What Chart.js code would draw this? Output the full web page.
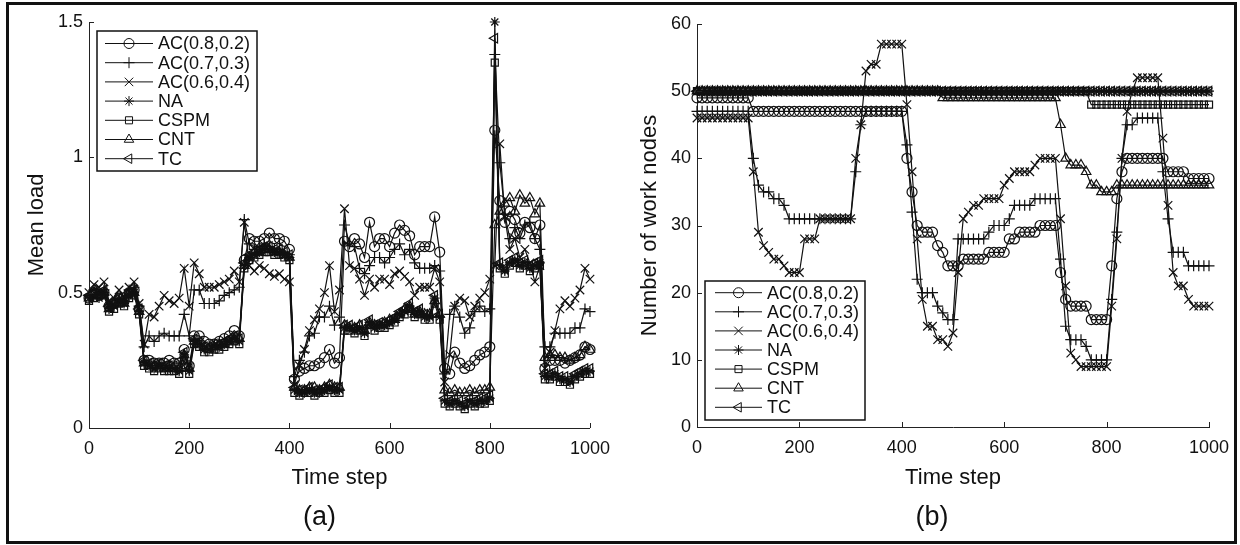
<!DOCTYPE html>
<html>
<head>
<meta charset="utf-8">
<script src="https://cdn.jsdelivr.net/npm/chart.js@4.4.0/dist/chart.umd.min.js"></script>
<style>
html,body{margin:0;padding:0;background:#fff;overflow:hidden;}
#wrap{position:relative;width:1240px;height:545px;overflow:hidden;background:#fff;}
#frame{position:absolute;left:6px;top:2px;width:1225px;height:536px;border:3px solid #111;}
#ca{position:absolute;left:0;top:0;}
#cb{position:absolute;left:620px;top:0;}
</style>
</head>
<body>
<div id="wrap">
<canvas id="ca" width="620" height="545"></canvas>
<canvas id="cb" width="620" height="545"></canvas>
<div id="frame"></div>
</div>
<script>
// ---------- data ----------
const timeSteps = [0,10,20,30,40,50,60,70,80,90,100,110,120,130,140,150,160,170,180,190,200,210,220,230,240,250,260,270,280,290,300,310,320,330,340,350,360,370,380,390,400,410,420,430,440,450,460,470,480,490,500,510,520,530,540,550,560,570,580,590,600,610,620,630,640,650,660,670,680,690,700,710,720,730,740,750,760,770,780,790,800,810,820,830,840,850,860,870,880,890,900,910,920,930,940,950,960,970,980,990,1000];

const seriesNames = ['AC(0.8,0.2)','AC(0.7,0.3)','AC(0.6,0.4)','NA','CSPM','CNT','TC'];
const xTicks = [0,200,400,600,800,1000];
const loadTicks = [0,0.5,1,1.5];
const nodeTicks = [0,10,20,30,40,50,60];

// (a) Mean load
const loadAC82 = [0.48,0.50,0.49,0.50,0.45,0.46,0.48,0.47,0.50,0.51,0.44,
 0.25,0.25,0.24,0.24,0.24,0.25,0.24,0.24,0.29,0.23,
 0.34,0.34,0.32,0.31,0.31,0.32,0.33,0.34,0.36,0.34,
 0.62,0.70,0.69,0.69,0.70,0.72,0.70,0.70,0.69,0.66,
 0.18,0.21,0.22,0.23,0.23,0.24,0.26,0.29,0.24,0.26,
 0.69,0.67,0.70,0.68,0.63,0.76,0.67,0.70,0.70,0.67,
 0.72,0.75,0.73,0.71,0.64,0.67,0.67,0.67,0.78,0.65,
 0.22,0.20,0.28,0.24,0.22,0.23,0.25,0.27,0.28,0.30,
 1.10,0.84,0.76,0.80,0.77,0.72,0.76,0.74,0.70,0.75,
 0.22,0.25,0.25,0.25,0.24,0.25,0.26,0.27,0.30,0.29];
const loadAC73 = [0.49,0.51,0.50,0.51,0.45,0.46,0.48,0.47,0.51,0.52,0.45,
 0.30,0.34,0.32,0.34,0.35,0.34,0.34,0.34,0.42,0.34,
 0.51,0.51,0.46,0.46,0.46,0.47,0.49,0.50,0.51,0.52,
 0.77,0.68,0.66,0.67,0.68,0.67,0.66,0.66,0.65,0.64,
 0.19,0.25,0.28,0.34,0.35,0.41,0.41,0.45,0.38,0.41,
 0.75,0.68,0.67,0.59,0.57,0.60,0.63,0.63,0.61,0.63,
 0.66,0.68,0.64,0.66,0.61,0.59,0.59,0.59,0.60,0.58,
 0.20,0.42,0.45,0.41,0.35,0.37,0.43,0.45,0.43,0.44,
 1.38,0.98,0.79,0.70,0.74,0.70,0.75,0.76,0.70,0.66,
 0.30,0.30,0.35,0.35,0.35,0.35,0.37,0.37,0.44,0.43];
const loadAC64 = [0.50,0.53,0.52,0.54,0.47,0.48,0.51,0.48,0.52,0.54,0.46,
 0.31,0.42,0.41,0.45,0.49,0.47,0.46,0.48,0.59,0.45,
 0.61,0.57,0.52,0.52,0.52,0.53,0.54,0.55,0.58,0.54,
 0.76,0.60,0.58,0.60,0.59,0.57,0.56,0.57,0.55,0.54,
 0.16,0.23,0.29,0.36,0.40,0.44,0.50,0.60,0.43,0.51,
 0.81,0.60,0.59,0.55,0.49,0.55,0.52,0.55,0.55,0.53,
 0.57,0.58,0.56,0.54,0.49,0.52,0.52,0.52,0.59,0.54,
 0.17,0.27,0.45,0.48,0.47,0.41,0.45,0.48,0.50,0.55,
 0.60,1.05,0.78,0.66,0.70,0.63,0.66,0.61,0.54,0.60,
 0.22,0.28,0.36,0.44,0.47,0.45,0.48,0.51,0.59,0.55];
const loadNA = [0.48,0.49,0.48,0.50,0.44,0.45,0.47,0.46,0.49,0.50,0.43,
 0.24,0.23,0.22,0.23,0.22,0.22,0.22,0.21,0.27,0.21,
 0.32,0.31,0.29,0.29,0.30,0.30,0.31,0.32,0.33,0.32,
 0.60,0.63,0.64,0.65,0.66,0.66,0.65,0.65,0.64,0.63,
 0.14,0.13,0.13,0.14,0.13,0.13,0.14,0.15,0.14,0.14,
 0.37,0.37,0.36,0.37,0.35,0.39,0.37,0.38,0.38,0.39,
 0.40,0.42,0.43,0.45,0.42,0.43,0.41,0.41,0.48,0.41,
 0.10,0.09,0.10,0.09,0.08,0.10,0.09,0.10,0.10,0.11,
 1.50,0.60,0.58,0.61,0.62,0.60,0.61,0.59,0.60,0.61,
 0.19,0.19,0.20,0.18,0.18,0.17,0.19,0.20,0.21,0.21];
const loadCSPM = [0.47,0.48,0.49,0.49,0.43,0.44,0.46,0.45,0.48,0.49,0.42,
 0.23,0.22,0.21,0.22,0.21,0.21,0.21,0.20,0.25,0.20,
 0.31,0.30,0.28,0.28,0.29,0.29,0.30,0.31,0.32,0.31,
 0.59,0.62,0.63,0.64,0.65,0.65,0.64,0.64,0.63,0.62,
 0.13,0.12,0.13,0.13,0.12,0.13,0.13,0.14,0.13,0.13,
 0.36,0.36,0.35,0.36,0.34,0.38,0.36,0.37,0.37,0.38,
 0.39,0.41,0.42,0.44,0.41,0.42,0.40,0.40,0.46,0.40,
 0.09,0.08,0.09,0.08,0.07,0.09,0.08,0.09,0.09,0.10,
 1.35,0.59,0.57,0.60,0.61,0.59,0.60,0.58,0.59,0.60,
 0.18,0.18,0.19,0.17,0.17,0.16,0.18,0.19,0.20,0.20];
const loadCNT = [0.48,0.50,0.49,0.50,0.44,0.46,0.47,0.46,0.50,0.50,0.43,
 0.24,0.23,0.23,0.23,0.22,0.23,0.22,0.22,0.27,0.22,
 0.32,0.31,0.30,0.29,0.30,0.31,0.31,0.32,0.33,0.33,
 0.60,0.63,0.65,0.65,0.66,0.66,0.65,0.65,0.64,0.63,
 0.15,0.14,0.14,0.15,0.15,0.14,0.15,0.16,0.15,0.15,
 0.38,0.37,0.37,0.38,0.36,0.39,0.38,0.38,0.39,0.40,
 0.40,0.42,0.44,0.45,0.42,0.43,0.42,0.42,0.47,0.42,
 0.14,0.13,0.14,0.13,0.13,0.14,0.13,0.14,0.14,0.15,
 0.75,0.80,0.83,0.85,0.80,0.86,0.83,0.85,0.79,0.83,
 0.26,0.27,0.27,0.26,0.26,0.25,0.26,0.27,0.30,0.29];
const loadTC = [0.49,0.50,0.49,0.51,0.45,0.46,0.48,0.47,0.50,0.51,0.44,
 0.25,0.24,0.23,0.24,0.23,0.23,0.23,0.22,0.28,0.22,
 0.33,0.32,0.30,0.30,0.31,0.31,0.32,0.33,0.34,0.33,
 0.61,0.64,0.65,0.66,0.67,0.67,0.66,0.66,0.65,0.64,
 0.15,0.14,0.14,0.15,0.14,0.14,0.15,0.16,0.15,0.15,
 0.38,0.38,0.37,0.38,0.36,0.40,0.38,0.39,0.39,0.40,
 0.41,0.43,0.44,0.46,0.43,0.44,0.42,0.42,0.49,0.42,
 0.11,0.10,0.11,0.10,0.09,0.11,0.10,0.11,0.11,0.12,
 1.44,0.61,0.59,0.62,0.63,0.61,0.62,0.60,0.61,0.62,
 0.20,0.20,0.21,0.19,0.19,0.18,0.20,0.21,0.22,0.22];

// (b) Number of work nodes
const nodesAC82 = [49,49,49,49,49,49,49,49,49,49,49,
 47,47,47,47,47,47,47,47,47,47,
 47,47,47,47,47,47,47,47,47,47,
 47,47,47,47,47,47,47,47,47,47,
 40,35,30,29,29,29,27,26,24,24,
 24,25,25,25,25,25,26,26,26,26,
 28,28,29,29,29,29,30,30,30,30,
 23,19,18,18,18,18,16,16,16,16,
 24,34,38,40,40,40,40,40,40,40,
 40,38,38,38,38,37,37,37,37,37];
const nodesAC73 = [47,47,47,47,47,47,47,47,47,47,47,
 40,36,35,35,34,34,33,31,31,31,
 31,31,31,31,31,31,31,31,31,31,
 38,45,47,47,47,47,47,47,47,47,
 42,32,22,20,20,20,18,17,16,16,
 28,28,28,28,28,28,29,30,30,30,
 31,33,33,33,33,34,34,34,34,34,
 25,15,13,13,13,12,10,10,10,10,
 19,29,40,45,45,46,46,46,46,46,
 38,31,26,26,26,24,24,24,24,24];
const nodesAC64 = [46,46,46,46,46,46,46,46,46,46,46,
 38,29,27,26,25,25,24,23,23,23,
 28,28,28,31,31,31,31,31,31,31,
 40,45,53,54,54,57,57,57,57,57,
 48,38,28,19,15,15,13,13,12,14,
 23,31,32,33,33,34,34,34,34,36,
 37,38,38,38,38,39,40,40,40,40,
 31,21,11,10,9,9,9,9,9,9,
 18,28,40,47,50,52,52,52,52,52,
 43,33,23,21,21,19,18,18,18,18];
const nodesNA = [50,50,50,50,50,50,50,50,50,50,50,
 50,50,50,50,50,50,50,50,50,50,
 50,50,50,50,50,50,50,50,50,50,
 50,50,50,50,50,50,50,50,50,50,
 50,50,50,50,50,50,50,50,50,50,
 50,50,50,50,50,50,50,50,50,50,
 50,50,50,50,50,50,50,50,50,50,
 50,50,50,50,50,50,50,50,50,50,
 50,50,50,50,50,50,50,50,50,50,
 50,50,50,50,50,50,50,50,50,50];
const nodesCSPM = [50,50,50,50,50,50,50,50,50,50,50,
 50,50,50,50,50,50,50,50,50,50,
 50,50,50,50,50,50,50,50,50,50,
 50,50,50,50,50,50,50,50,50,50,
 50,50,50,50,50,50,50,50,50,50,
 50,50,50,50,50,50,50,50,50,50,
 50,50,50,50,50,50,50,50,50,50,
 50,50,50,50,50,50,48,48,48,48,
 48,48,48,48,48,48,48,48,48,48,
 48,48,48,48,48,48,48,48,48,48];
const nodesCNT = [50,50,50,50,50,50,50,50,50,50,50,
 50,50,50,50,50,50,50,50,50,50,
 50,50,50,50,50,50,50,50,50,50,
 50,50,50,50,50,50,50,50,50,50,
 50,50,50,50,50,50,50,49,49,49,
 49,49,49,49,49,49,49,49,49,49,
 49,49,49,49,49,49,49,49,49,49,
 45,40,39,39,39,38,36,36,35,35,
 35,36,36,36,36,36,36,36,36,36,
 36,36,36,36,36,36,36,36,36,36];
const nodesTC = [50,50,50,50,50,50,50,50,50,50,50,
 50,50,50,50,50,50,50,50,50,50,
 50,50,50,50,50,50,50,50,50,50,
 50,50,50,50,50,50,50,50,50,50,
 50,50,50,50,50,50,50,50,50,50,
 50,50,50,50,50,50,50,50,50,50,
 50,50,50,50,50,50,50,50,50,50,
 50,50,50,50,50,50,50,50,50,50,
 50,50,50,50,50,50,50,50,50,50,
 50,50,50,50,50,50,50,50,50,50];

// ---------- styling ----------
const FONT = "'Liberation Sans', Arial, Helvetica, sans-serif";
const INK = '#111';
const markers = [
  {style:'circle', rot:0, r:5},
  {style:'cross', rot:0, r:5.5},
  {style:'crossRot', rot:0, r:6},
  {style:'star', rot:0, r:5},
  {style:'rect', rot:0, r:5},
  {style:'triangle', rot:0, r:5.5},
  {style:'triangle', rot:-90, r:5.5}
];

function buildDatasets(valueLists) {
  return valueLists.map((vals, k) => ({
    label: seriesNames[k],
    data: timeSteps.map((t, i) => ({x: t, y: vals[i]})),
    borderColor: INK, borderWidth: 1.2,
    pointStyle: markers[k].style, pointRotation: markers[k].rot,
    pointRadius: markers[k].r, pointHoverRadius: markers[k].r,
    pointBorderColor: INK, pointBackgroundColor: 'rgba(0,0,0,0)', pointBorderWidth: 1.2,
    tension: 0, clip: false, order: 6 - k
  }));
}

const inTicks = {
  id: 'inTicks',
  afterDraw(chart) {
    const {ctx, chartArea: a, scales: {x, y}} = chart;
    ctx.save();
    ctx.strokeStyle = '#222'; ctx.lineWidth = 1;
    ctx.beginPath();
    x.ticks.forEach(t => { const px = Math.round(x.getPixelForValue(t.value)) + 0.5; ctx.moveTo(px, a.bottom); ctx.lineTo(px, a.bottom - 5); });
    y.ticks.forEach(t => { const py = Math.round(y.getPixelForValue(t.value)) + 0.5; ctx.moveTo(a.left, py); ctx.lineTo(a.left + 5, py); });
    ctx.stroke();
    ctx.restore();
  }
};

const legendBox = {
  id: 'legendBox',
  afterDraw(chart, args, o) {
    const ctx = chart.ctx;
    ctx.save();
    ctx.fillStyle = '#fff'; ctx.fillRect(o.x, o.y, o.w, o.h);
    ctx.strokeStyle = INK; ctx.lineWidth = 1.5; ctx.strokeRect(o.x, o.y, o.w, o.h);
    chart.data.datasets.forEach((ds, i) => {
      const yy = o.row0 + i * o.step;
      ctx.strokeStyle = INK; ctx.lineWidth = 1;
      ctx.beginPath(); ctx.moveTo(o.lx1, yy); ctx.lineTo(o.lx2, yy); ctx.stroke();
      ctx.fillStyle = 'rgba(0,0,0,0)';
      Chart.helpers.drawPoint(ctx, {pointStyle: ds.pointStyle, rotation: ds.pointRotation, radius: ds.pointRadius, borderWidth: 1}, (o.lx1 + o.lx2) / 2, yy);
      ctx.fillStyle = INK;
      ctx.font = '18px ' + FONT; ctx.textAlign = 'left'; ctx.textBaseline = 'middle';
      ctx.fillText(ds.label, o.tx, yy + 1);
    });
    ctx.restore();
  }
};

const panelLabel = {
  id: 'panelLabel',
  afterDraw(chart, args, o) {
    const ctx = chart.ctx, a = chart.chartArea;
    ctx.save();
    ctx.fillStyle = INK; ctx.font = '27px ' + FONT;
    ctx.textAlign = 'center'; ctx.textBaseline = 'middle';
    ctx.fillText(o.text, (a.left + a.right) / 2 + o.dx, o.y);
    ctx.restore();
  }
};

function makeChart(id, valueLists, cfg) {
  return new Chart(document.getElementById(id), {
    type: 'line',
    data: {datasets: buildDatasets(valueLists)},
    plugins: [inTicks, legendBox, panelLabel],
    options: {
      responsive: false, animation: false, devicePixelRatio: 1, events: [],
      layout: {padding: cfg.pad, autoPadding: false},
      plugins: {
        legend: {display: false}, tooltip: {enabled: false},
        legendBox: cfg.legend, panelLabel: cfg.label
      },
      scales: {
        x: {
          type: 'linear', min: 0, max: 1000,
          afterBuildTicks: s => { s.ticks = xTicks.map(v => ({value: v})); },
          afterFit: s => { s.height = cfg.xh; },
          grid: {display: false, drawTicks: false},
          border: {display: true, color: '#222', width: 1},
          ticks: {font: {family: FONT, size: 18}, color: INK, padding: 10, maxRotation: 0, autoSkip: false, callback: v => String(v)},
          title: {display: true, text: 'Time step', color: INK, font: {family: FONT, size: 22}, padding: {top: 0, bottom: 54}}
        },
        y: {
          type: 'linear', min: cfg.ymin, max: cfg.ymax,
          afterBuildTicks: s => { s.ticks = cfg.yticks.map(v => ({value: v})); },
          afterFit: s => { s.width = cfg.yw; },
          grid: {display: false, drawTicks: false},
          border: {display: true, color: '#222', width: 1},
          ticks: {font: {family: FONT, size: 18}, color: INK, padding: 6, autoSkip: false, callback: v => String(v)},
          title: {display: true, text: cfg.ytitle, color: INK, font: {family: FONT, size: 22}, padding: {top: cfg.ytp, bottom: 0}}
        }
      }
    }
  });
}

makeChart('ca', [loadAC82, loadAC73, loadAC64, loadNA, loadCSPM, loadCNT, loadTC], {
  pad: {left: 0, top: 22, right: 18, bottom: 0}, xh: 117, yw: 89,
  ymin: 0, ymax: 1.5, yticks: loadTicks, ytitle: 'Mean load', ytp: 24,
  legend: {x: 97, y: 31, w: 160, h: 140, row0: 43.5, step: 19.2, lx1: 105, lx2: 153, tx: 158},
  label: {text: '(a)', dx: -20, y: 518}
});

makeChart('cb', [nodesAC82, nodesAC73, nodesAC64, nodesNA, nodesCSPM, nodesCNT, nodesTC], {
  pad: {left: 0, top: 24, right: 31, bottom: 0}, xh: 118, yw: 77,
  ymin: 0, ymax: 60, yticks: nodeTicks, ytitle: 'Number of work nodes', ytp: 17,
  legend: {x: 85, y: 281, w: 160, h: 139, row0: 292.7, step: 19.1, lx1: 95, lx2: 142, tx: 147},
  label: {text: '(b)', dx: -21, y: 518}
});
</script>
</body>
</html>
